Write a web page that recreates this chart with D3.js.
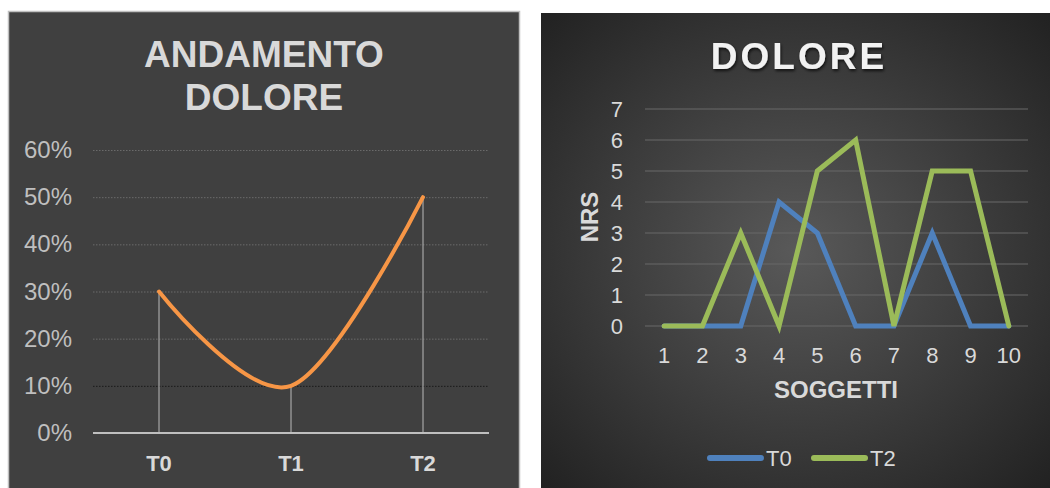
<!DOCTYPE html>
<html lang="it">
<head>
<meta charset="UTF-8">
<title>Dolore</title>
<script src="https://d3js.org/d3.v7.min.js"></script>
<style>
  body { margin: 0; background: #fff; }
  svg { display: block; font-family: "Liberation Sans", Arial, sans-serif; }
</style>
</head>
<body>
<script>
// left chart data
var fasi = ["T0", "T1", "T2"];
var andamento = [0.30, 0.10, 0.50];
var tickPerc = [0, 0.1, 0.2, 0.3, 0.4, 0.5, 0.6];

// right chart data
var soggetti = [1, 2, 3, 4, 5, 6, 7, 8, 9, 10];
var doloreT0 = [0, 0, 0, 4, 3, 0, 0, 3, 0, 0];
var doloreT2 = [0, 0, 3, 0, 5, 6, 0, 5, 5, 0];
var tickNrs = [0, 1, 2, 3, 4, 5, 6, 7];

var W = 1050, H = 488;
var svg = d3.select("body").append("svg")
    .attr("width", W)
    .attr("height", H);

var defs = svg.append("defs");

// ---------- left panel ----------
svg.append("rect")
    .attr("x", 8.5).attr("y", 11.5)
    .attr("width", 511).attr("height", 490)
    .attr("fill", "#404040")
    .attr("stroke", "#bfbfbf")
    .attr("stroke-width", 1.5);

var left = svg.append("g");
left.append("text")
    .attr("x", 264).attr("y", 67)
    .attr("text-anchor", "middle")
    .attr("fill", "#d9d9d9")
    .attr("font-size", 37).attr("font-weight", "bold")
    .text("ANDAMENTO");
left.append("text")
    .attr("x", 264).attr("y", 110)
    .attr("text-anchor", "middle")
    .attr("fill", "#d9d9d9")
    .attr("font-size", 37).attr("font-weight", "bold")
    .text("DOLORE");

var xL = d3.scaleBand().domain(fasi).range([93, 489]);
var yL = d3.scaleLinear().domain([0, 0.6]).range([433, 150]);

// gridlines
left.selectAll("line.grid")
    .data(tickPerc.filter(function(d) { return d > 0; }))
    .enter().append("line")
    .attr("class", "grid")
    .attr("x1", 93).attr("x2", 489)
    .attr("y1", function(d) { return yL(d) + 0.5; })
    .attr("y2", function(d) { return yL(d) + 0.5; })
    .attr("stroke", function(d) { return Math.abs(d - 0.1) < 1e-9 ? "#1a1a1a" : "#6a6a6a"; })
    .attr("stroke-width", 1)
    .attr("stroke-dasharray", "1.5,1.5");

// y labels
left.selectAll("text.ylab")
    .data(tickPerc)
    .enter().append("text")
    .attr("class", "ylab")
    .attr("x", 72)
    .attr("y", function(d) { return yL(d) + 8; })
    .attr("text-anchor", "end")
    .attr("fill", "#bfbfbf")
    .attr("font-size", 24)
    .text(function(d) { return d3.format(".0%")(d); });

// drop lines
left.selectAll("line.drop")
    .data(andamento)
    .enter().append("line")
    .attr("class", "drop")
    .attr("x1", function(d, i) { return xL(fasi[i]) + xL.bandwidth() / 2; })
    .attr("x2", function(d, i) { return xL(fasi[i]) + xL.bandwidth() / 2; })
    .attr("y1", function(d) { return yL(d); })
    .attr("y2", yL(0))
    .attr("stroke", "#a6a6a6")
    .attr("stroke-width", 1.2);

// axis line
left.append("line")
    .attr("x1", 93).attr("x2", 489)
    .attr("y1", yL(0)).attr("y2", yL(0))
    .attr("stroke", "#bfbfbf")
    .attr("stroke-width", 2);

// curve
var lineL = d3.line()
    .x(function(d, i) { return xL(fasi[i]) + xL.bandwidth() / 2; })
    .y(function(d) { return yL(d); })
    .curve(d3.curveCardinal.tension(0));
left.append("path")
    .attr("d", lineL(andamento))
    .attr("fill", "none")
    .attr("stroke", "#f79646")
    .attr("stroke-width", 4)
    .attr("stroke-linecap", "round");

// x labels
left.selectAll("text.xlab")
    .data(fasi)
    .enter().append("text")
    .attr("class", "xlab")
    .attr("x", function(d) { return xL(d) + xL.bandwidth() / 2; })
    .attr("y", 471)
    .attr("text-anchor", "middle")
    .attr("fill", "#d9d9d9")
    .attr("font-size", 22).attr("font-weight", "bold")
    .text(function(d) { return d; });

// ---------- right panel ----------
var grad = defs.append("radialGradient")
    .attr("id", "bg")
    .attr("cx", "50%").attr("cy", "50%").attr("r", "75%");
grad.append("stop").attr("offset", "0%").attr("stop-color", "#595959");
grad.append("stop").attr("offset", "100%").attr("stop-color", "#1e1e1e");

var shadow = defs.append("filter").attr("id", "sh")
    .attr("x", "-10%").attr("y", "-20%").attr("width", "130%").attr("height", "150%");
shadow.append("feDropShadow")
    .attr("dx", 1).attr("dy", 2).attr("stdDeviation", 1.5)
    .attr("flood-color", "#000").attr("flood-opacity", 0.7);

svg.append("rect")
    .attr("x", 541).attr("y", 13)
    .attr("width", W - 541).attr("height", H - 13)
    .attr("fill", "url(#bg)");

var right = svg.append("g");
right.append("text")
    .attr("x", 799).attr("y", 69)
    .attr("text-anchor", "middle")
    .attr("fill", "#f2f2f2")
    .attr("font-size", 37).attr("font-weight", "bold")
    .attr("letter-spacing", 3)
    .attr("filter", "url(#sh)")
    .text("DOLORE");

var xR = d3.scaleBand().domain(soggetti).range([645, 1028]);
var yR = d3.scaleLinear().domain([0, 7]).range([326, 109]);
function cx(d) { return xR(d) + xR.bandwidth() / 2; }

right.selectAll("line.grid")
    .data(tickNrs)
    .enter().append("line")
    .attr("class", "grid")
    .attr("x1", 645).attr("x2", 1028)
    .attr("y1", function(d) { return yR(d); })
    .attr("y2", function(d) { return yR(d); })
    .attr("stroke", "#666")
    .attr("stroke-opacity", 0.7)
    .attr("stroke-width", 1.5);

right.selectAll("text.ylab")
    .data(tickNrs)
    .enter().append("text")
    .attr("class", "ylab")
    .attr("x", 623)
    .attr("y", function(d) { return yR(d) + 8; })
    .attr("text-anchor", "end")
    .attr("fill", "#d9d9d9")
    .attr("font-size", 22)
    .text(function(d) { return d; });

right.selectAll("text.xlab")
    .data(soggetti)
    .enter().append("text")
    .attr("class", "xlab")
    .attr("x", cx)
    .attr("y", 363)
    .attr("text-anchor", "middle")
    .attr("fill", "#d9d9d9")
    .attr("font-size", 22)
    .text(function(d) { return d; });

right.append("text")
    .attr("transform", "translate(598,217) rotate(-90)")
    .attr("text-anchor", "middle")
    .attr("fill", "#d9d9d9")
    .attr("font-size", 24).attr("font-weight", "bold")
    .text("NRS");

right.append("text")
    .attr("x", 836).attr("y", 398)
    .attr("text-anchor", "middle")
    .attr("fill", "#d9d9d9")
    .attr("font-size", 24).attr("font-weight", "bold")
    .text("SOGGETTI");

var series = [
    { name: "T0", values: doloreT0, color: "#4f81bd" },
    { name: "T2", values: doloreT2, color: "#9bbb59" }
];

var lineR = d3.line()
    .x(function(d, i) { return cx(soggetti[i]); })
    .y(function(d) { return yR(d); });

right.selectAll("path.serie")
    .data(series)
    .enter().append("path")
    .attr("class", "serie")
    .attr("d", function(s) { return lineR(s.values); })
    .attr("fill", "none")
    .attr("stroke", function(s) { return s.color; })
    .attr("stroke-width", 5)
    .attr("stroke-linejoin", "miter")
    .attr("stroke-linecap", "round");

// legend
var legX = [707, 811];
var leg = right.selectAll("g.leg")
    .data(series)
    .enter().append("g")
    .attr("class", "leg")
    .attr("transform", function(s, i) { return "translate(" + legX[i] + ",458)"; });
leg.append("line")
    .attr("x1", 3).attr("x2", 54)
    .attr("y1", 0).attr("y2", 0)
    .attr("stroke", function(s) { return s.color; })
    .attr("stroke-width", 6)
    .attr("stroke-linecap", "round");
leg.append("text")
    .attr("x", 59).attr("y", 8)
    .attr("fill", "#d9d9d9")
    .attr("font-size", 22)
    .text(function(s) { return s.name; });
</script>
</body>
</html>
